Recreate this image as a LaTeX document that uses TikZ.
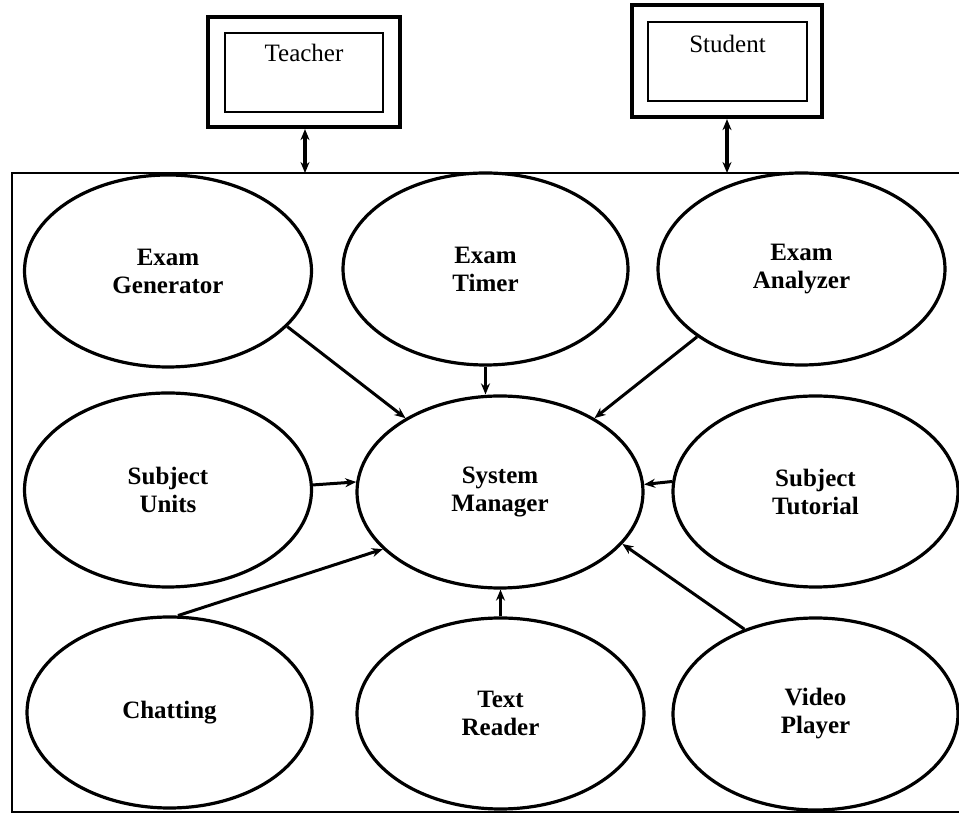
\documentclass[tikz,border=0pt]{standalone}
\usepackage{fontspec}
\setmainfont{Liberation Serif}
\usetikzlibrary{shapes.geometric, positioning, arrows.meta}

\begin{document}
\begin{tikzpicture}[>={Stealth[length=11pt,width=9pt]}, x=1pt, y=1pt,
  module/.style={ellipse, draw, line width=3.2pt, align=center, inner sep=0pt,
    minimum width=287pt, minimum height=192pt,
    font=\fontsize{25}{28}\selectfont\bfseries},
  outerbox/.style={rectangle, draw, line width=4.2pt, minimum width=192pt, minimum height=110pt},
  innerbox/.style={rectangle, draw, line width=1.4pt, minimum width=158pt, minimum height=79pt},
  userlabel/.style={font=\fontsize{25}{28}\selectfont}]
  \useasboundingbox (0,0) rectangle (959,814);

  % users
  \node[outerbox] (teacher) at (304,742) {};
  \node[innerbox] (teacherin) at (304,741.5) {};
  \node[userlabel, below=8pt of teacherin.north] {Teacher};
  \node[outerbox, minimum width=190pt, minimum height=112pt] (student) at (727,753) {};
  \node[innerbox, minimum width=159pt] (studentin) at (727.5,752.5) {};
  \node[userlabel, below=10pt of studentin.north] {Student};

  % system frame
  \draw[line width=2pt] (959,641) -- (12,641) -- (12,2) -- (959,2);
  \coordinate (tport) at (305,641);
  \coordinate (sport) at (727,641);

  \node[module] (gen) at (168,543) {Exam\\Generator};
  \node[module, minimum width=285pt] (timer) at (485.5,545) {Exam\\Timer};
  \node[module] (ana) at (801.5,545) {Exam\\Analyzer};
  \node[module, minimum height=194pt] (units) at (168,324) {Subject\\Units};
  \node[module, minimum width=286pt] (sys) at (500,322) {System\\Manager};
  \node[module, minimum width=285pt, minimum height=191pt] (tut) at (815.5,322.5) {Subject\\Tutorial};
  \node[module, minimum width=285pt, minimum height=191pt] (chat) at (169.5,101.5) {Chatting};
  \node[module, minimum height=191pt] (reader) at (500.5,100.5) {Text\\Reader};
  \node[module, minimum width=285pt] (video) at (815.5,100) {Video\\Player};

  \draw[line width=3.4pt] (teacher.south -| tport) edge[<->] (tport)
        (student.south -| sport) edge[<->] (sport);

  \draw[line width=3pt] (gen.-25.8) edge[->] (sys.142)
        (timer.south) edge[->] (sys.north -| timer.south)
        (ana.213) edge[->] (sys.38.5)
        (units.2.8) edge[->] (sys.176.4)
        (tut.176.6) edge[->] (sys.3.6)
        (chat.85) edge[->] (sys.206.8)
        (reader.north) edge[->] (sys.south -| reader.north)
        (video.130) edge[->] (sys.-23.3);
\end{tikzpicture}
\end{document}
